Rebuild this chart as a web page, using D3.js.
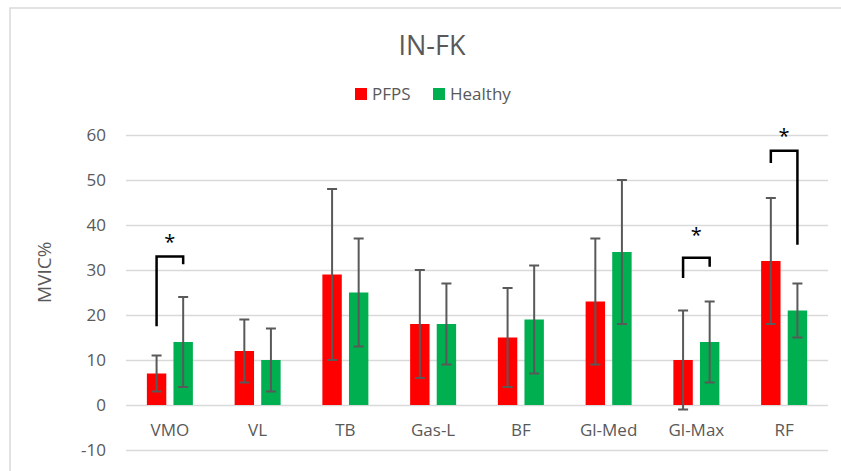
<!DOCTYPE html>
<html>
<head>
<meta charset="utf-8">
<script src="https://cdn.jsdelivr.net/npm/d3@7"></script>
<style>
  body { margin: 0; background: #fff; }
  svg { display: block; }
  text { font-family: "Open Sans", "DejaVu Sans", sans-serif; fill: #595959; }
</style>
</head>
<body>
<div id="area"></div>
<script>
// data
var categories = ["VMO", "VL", "TB", "Gas-L", "BF", "Gl-Med", "Gl-Max", "RF"];
var series = ["PFPS", "Healthy"];
var pfps = [7, 12, 29, 18, 15, 23, 10, 32];
var pfpsErr = [4, 7, 19, 12, 11, 14, 11, 14];
var healthy = [14, 10, 25, 18, 19, 34, 14, 21];
var healthyErr = [10, 7, 12, 9, 12, 16, 9, 6];
var yTicks = [-10, 0, 10, 20, 30, 40, 50, 60];
// significance brackets: category, left start, top, right end (in MVIC%)
var brackets = [
    { cat: "VMO", left: 17.5, top: 33, right: 31.3, star: 37 },
    { cat: "Gl-Max", left: 28.2, top: 32.7, right: 30.7, star: 38.5 },
    { cat: "RF", left: 53.8, top: 56.5, right: 35.6, star: 60.5 }
];
var colors = { PFPS: "#FF0000", Healthy: "#00B050" };

var width = 841, height = 471;
var margin = { top: 135, right: 13, bottom: 21, left: 126 };

var svg = d3.select("#area")
    .append("svg")
    .attr("width", width)
    .attr("height", height);

// chart border
svg.append("rect")
    .attr("x", 10).attr("y", 8)
    .attr("width", width).attr("height", height)
    .attr("fill", "none")
    .attr("stroke", "#D9D9D9")
    .attr("stroke-width", 1.5);

var x = d3.scaleBand()
    .domain(categories)
    .range([margin.left, width - margin.right]);
var x1 = d3.scaleBand()
    .domain(series)
    .range([x.bandwidth() / 2 - 23, x.bandwidth() / 2 + 23])
    .paddingInner(0.27);
var y = d3.scaleLinear()
    .domain([-10, 60])
    .range([height - margin.bottom, margin.top]);

// gridlines
svg.append("g")
    .attr("transform", "translate(" + margin.left + ",0)")
    .call(d3.axisLeft(y).tickValues(yTicks).tickSize(-(width - margin.left - margin.right)).tickPadding(20).tickFormat(d => String(d)))
    .call(g => g.select(".domain").remove())
    .call(g => g.selectAll("line").attr("stroke", "#D9D9D9").attr("stroke-width", 1.5))
    .call(g => g.selectAll("text").attr("font-size", 17).attr("fill", "#595959").style("font-family", "'Open Sans', sans-serif"));

// category labels
svg.append("g")
    .selectAll("text")
    .data(categories)
    .join("text")
    .attr("x", d => x(d) + x.bandwidth() / 2)
    .attr("y", y(0) + 31)
    .attr("text-anchor", "middle")
    .attr("font-size", 17)
    .text(d => d);

var rows = [];
categories.forEach(function (c, i) {
    rows.push({ cat: c, s: "PFPS", v: pfps[i], e: pfpsErr[i] });
    rows.push({ cat: c, s: "Healthy", v: healthy[i], e: healthyErr[i] });
});

// bars
svg.append("g")
    .selectAll("rect")
    .data(rows)
    .join("rect")
    .attr("x", d => x(d.cat) + x1(d.s))
    .attr("y", d => y(d.v))
    .attr("width", x1.bandwidth())
    .attr("height", d => y(0) - y(d.v))
    .attr("fill", d => colors[d.s]);

// error bars
var eb = svg.append("g")
    .attr("stroke", "#595959")
    .attr("stroke-width", 2)
    .selectAll("g")
    .data(rows)
    .join("g")
    .attr("transform", d => "translate(" + (x(d.cat) + x1(d.s) + x1.bandwidth() / 2) + ",0)");
eb.append("line")
    .attr("y1", d => y(d.v - d.e))
    .attr("y2", d => y(d.v + d.e));
eb.append("line")
    .attr("x1", -5).attr("x2", 5)
    .attr("y1", d => y(d.v + d.e)).attr("y2", d => y(d.v + d.e));
eb.append("line")
    .attr("x1", -5).attr("x2", 5)
    .attr("y1", d => y(d.v - d.e)).attr("y2", d => y(d.v - d.e));

// significance brackets
var br = svg.append("g")
    .selectAll("g")
    .data(brackets)
    .join("g");
br.append("path")
    .attr("fill", "none")
    .attr("stroke", "#000")
    .attr("stroke-width", 2.5)
    .attr("d", function (d) {
        var xl = x(d.cat) + x1("PFPS") + x1.bandwidth() / 2;
        var xr = x(d.cat) + x1("Healthy") + x1.bandwidth() / 2;
        return "M" + xl + "," + y(d.left) + "V" + y(d.top) + "H" + xr + "V" + y(d.right);
    });
br.append("text")
    .attr("x", d => x(d.cat) + x.bandwidth() / 2)
    .attr("y", d => y(d.star) + 10)
    .attr("text-anchor", "middle")
    .attr("font-size", 20)
    .style("fill", "#000")
    .text("*");

// y axis title
svg.append("text")
    .attr("transform", "translate(51," + y(29.5) + ") rotate(-90)")
    .attr("text-anchor", "middle")
    .attr("font-size", 19)
    .text("MVIC%");

// title
svg.append("text")
    .attr("x", 432)
    .attr("y", 55)
    .attr("text-anchor", "middle")
    .attr("font-size", 27)
    .style("font-family", "'Liberation Sans Narrow', 'Open Sans', sans-serif")
    .text("IN-FK");

// legend
var leg = svg.append("g")
    .selectAll("g")
    .data(series)
    .join("g")
    .attr("transform", (d, i) => "translate(" + (355 + i * 78) + ",88)");
leg.append("rect")
    .attr("width", 12).attr("height", 12)
    .attr("fill", d => colors[d]);
leg.append("text")
    .attr("x", 17).attr("y", 12)
    .attr("font-size", 17)
    .style("font-family", "'Liberation Sans Narrow', 'Open Sans', sans-serif")
    .text(d => d);
</script>
</body>
</html>
